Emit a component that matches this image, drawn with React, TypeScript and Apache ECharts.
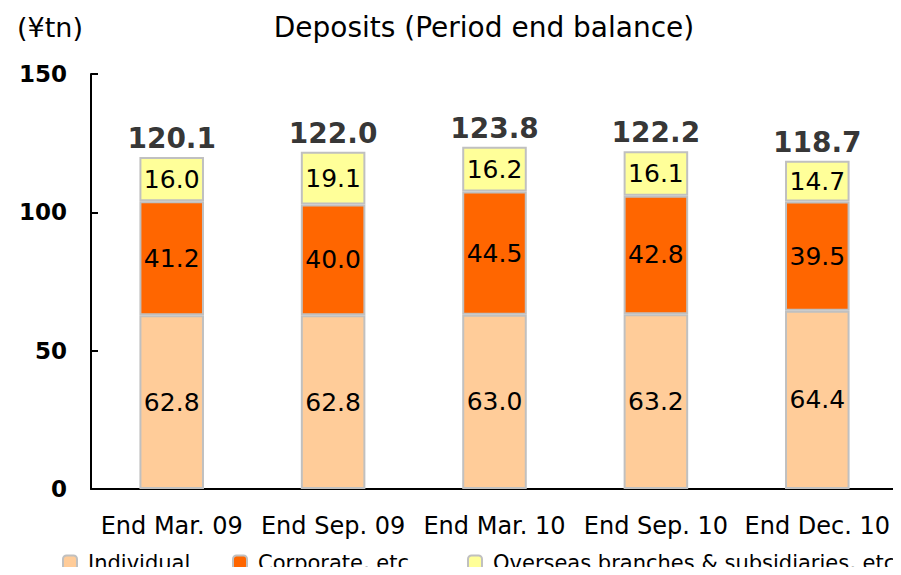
import React, { useEffect, useRef } from "react";
import * as echarts from "echarts";

const categories = ["End Mar. 09", "End Sep. 09", "End Mar. 10", "End Sep. 10", "End Dec. 10"];
const individual = [62.8, 62.8, 63.0, 63.2, 64.4];
const corporate = [41.2, 40.0, 44.5, 42.8, 39.5];
const overseas = [16.0, 19.1, 16.2, 16.1, 14.7];
const totals = [120.1, 122.0, 123.8, 122.2, 118.7];
const seriesNames = ["Individual", "Corporate, etc.", "Overseas branches & subsidiaries, etc."];

const FONT = "DejaVu Sans";

export default function App() {
  const ref = useRef<HTMLDivElement>(null);
  useEffect(() => {
    if (!ref.current) return;
    const chart = echarts.init(ref.current, null, { renderer: "svg" });
    const segLabel = {
      show: true,
      position: "inside",
      color: "#000",
      fontSize: 25,
      fontFamily: FONT,
      formatter: (p: any) => Number(p.value).toFixed(1),
    };
    const border = { borderColor: "#c0c0c0", borderWidth: 2 };
    const legendLefts = [62, 232, 467];
    chart.setOption({
      animation: false,
      textStyle: { fontFamily: FONT },
      title: {
        text: "Deposits (Period end balance)",
        left: 479,
        top: 8,
        textAlign: "center",
        textStyle: { fontSize: 28, fontWeight: "normal", color: "#000", fontFamily: FONT },
      },
      graphic: [
        {
          type: "text",
          left: 17,
          top: 14,
          style: { text: "(¥tn)", fontSize: 27, fill: "#000", fontFamily: FONT },
        },
      ],
      legend: seriesNames.map((n, i) => ({
        left: legendLefts[i],
        top: 552,
        padding: 0,
        itemWidth: 14,
        itemHeight: 14,
        textStyle: { fontSize: 21, color: "#000", fontFamily: FONT, padding: [0, 0, 0, 6] },
        data: [n],
      })),
      grid: { left: 91, right: 3, top: 74, bottom: 86 },
      xAxis: {
        type: "category",
        data: categories,
        axisLine: { lineStyle: { color: "#000", width: 2 } },
        axisTick: { inside: true, length: 7, lineStyle: { color: "#000", width: 2 } },
        axisLabel: { interval: 0, fontSize: 24, color: "#000", margin: 25, fontFamily: FONT },
      },
      yAxis: {
        type: "value",
        min: 0,
        max: 150,
        interval: 50,
        splitLine: { show: false },
        axisLine: { show: true, lineStyle: { color: "#000", width: 2 } },
        axisTick: { show: true, inside: true, length: 7, lineStyle: { color: "#000", width: 2 } },
        axisLabel: { fontSize: 23, fontWeight: "bold", color: "#000", margin: 24, fontFamily: FONT },
      },
      series: [
        {
          name: seriesNames[0],
          type: "bar",
          stack: "total",
          barWidth: "40%",
          data: individual,
          itemStyle: { color: "#FFCC99", ...border },
          label: segLabel,
        },
        {
          name: seriesNames[1],
          type: "bar",
          stack: "total",
          data: corporate,
          itemStyle: { color: "#FF6600", ...border },
          label: segLabel,
        },
        {
          name: seriesNames[2],
          type: "bar",
          stack: "total",
          data: overseas,
          itemStyle: { color: "#FFFF99", ...border },
          label: segLabel,
        },
        {
          name: "Total",
          type: "scatter",
          data: totals,
          symbolSize: 0,
          silent: true,
          label: {
            show: true,
            position: "top",
            distance: 4,
            color: "#000",
            fontSize: 28,
            fontWeight: "bold",
            fontFamily: FONT,
            formatter: (p: any) => Number(p.value).toFixed(1),
          },
        },
      ],
    });
    return () => chart.dispose();
  }, []);
  return <div ref={ref} style={{ width: 901, height: 575, margin: -8 }} />;
}
